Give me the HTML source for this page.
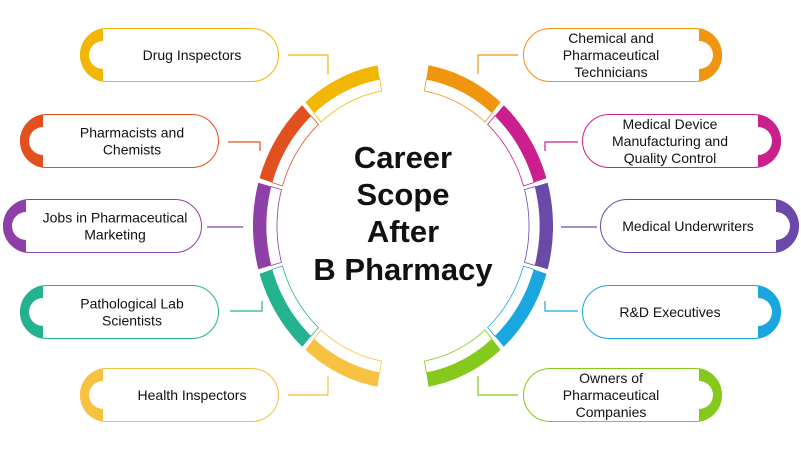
<!DOCTYPE html>
<html><head><meta charset="utf-8"><style>
html,body{margin:0;padding:0;background:#fff}
svg{display:block}
text{font-family:"Liberation Sans",Arial,sans-serif;fill:#111}
</style></head><body>
<svg id="s" width="801" height="451" viewBox="0 0 801 451" xmlns="http://www.w3.org/2000/svg">
<g id="ring"></g>
<g id="boxes"></g>
<g font-weight="bold" font-size="31" text-anchor="middle">
<text x="403" y="168">Career</text>
<text x="403" y="205">Scope</text>
<text x="403" y="242">After</text>
<text x="403" y="280">B Pharmacy</text>
</g>
</svg>
<script>
var NS="http://www.w3.org/2000/svg";
function el(p,tag,a,txt){var e=document.createElementNS(NS,tag);for(var k in a)e.setAttribute(k,a[k]);if(txt)e.textContent=txt;p.appendChild(e);return e;}
var cx=403,cy=226,k=1.087;
function pt(r,t){t=t*Math.PI/180;return [cx+r*Math.cos(t),cy+r*k*Math.sin(t)];}
function sector(r1,r2,a1,a2){var s="",n=24,i,p;for(i=0;i<=n;i++){p=pt(r2,a1+(a2-a1)*i/n);s+=(i?"L":"M")+p[0].toFixed(1)+","+p[1].toFixed(1);}
for(i=n;i>=0;i--){p=pt(r1,a1+(a2-a1)*i/n);s+="L"+p[0].toFixed(1)+","+p[1].toFixed(1);}return s+"Z";}
var ring=document.getElementById("ring");
var L=["#f2b705","#e2501f","#8e3fa8","#25b38f","#f7c142"];
var R=["#f0950e","#cc1f8e","#6a4aa8","#1aa7e0","#84c91c"];
var span=162/5,gap=1.6;
for(var i=0;i<5;i++){
 var a1=261-i*span-gap/2,a2=261-(i+1)*span+gap/2;
 el(ring,"path",{d:sector(126,137,a2,a1),fill:"#fff",stroke:L[i],"stroke-width":"0.8"});
 el(ring,"path",{d:sector(137,150,a2,a1),fill:L[i]});
 var b1=-81+i*span+gap/2,b2=-81+(i+1)*span-gap/2;
 el(ring,"path",{d:sector(126,137,b1,b2),fill:"#fff",stroke:R[i],"stroke-width":"0.8"});
 el(ring,"path",{d:sector(137,150,b1,b2),fill:R[i]});
}
var bx=document.getElementById("boxes");
var boxes=[
 {x:80,y:28,c:L[0],side:"L",t:["Drug Inspectors"],con:"M288,55H328V74"},
 {x:20,y:114,c:L[1],side:"L",t:["Pharmacists and","Chemists"],con:"M228,142H260V151"},
 {x:3,y:199,c:L[2],side:"L",t:["Jobs in Pharmaceutical","Marketing"],con:"M207,227H243"},
 {x:20,y:285,c:L[3],side:"L",t:["Pathological Lab","Scientists"],con:"M230,311H262V301"},
 {x:80,y:368,c:L[4],side:"L",t:["Health Inspectors"],con:"M288,395H328V376"},
 {x:523,y:28,c:R[0],side:"R",t:["Chemical and","Pharmaceutical","Technicians"],con:"M518,55H478V74"},
 {x:582,y:114,c:R[1],side:"R",t:["Medical Device","Manufacturing and","Quality Control"],con:"M578,142H545V151"},
 {x:600,y:199,c:R[2],side:"R",t:["Medical Underwriters"],con:"M597,227H561"},
 {x:582,y:285,c:R[3],side:"R",t:["R&D Executives"],con:"M578,311H545V301"},
 {x:523,y:368,c:R[4],side:"R",t:["Owners of","Pharmaceutical","Companies"],con:"M518,395H478V376"}
];
boxes.forEach(function(b){
 var w=199,h=54,x=b.x,y=b.y,cyb=y+27;
 el(bx,"path",{d:b.con,fill:"none",stroke:b.c,"stroke-width":"1.2"});
 el(bx,"rect",{x:x+0.5,y:y+0.5,width:w-1,height:h-1,rx:26.5,fill:"#fff",stroke:b.c,"stroke-width":"1"});
 var d;
 if(b.side=="L){"){}
 if(b.side=="L"){var e=x+23;d="M"+e+","+y+"H"+(x+27)+"A27,27 0 0 0 "+(x+27)+","+(y+54)+"H"+e+"V"+(cyb+14)+"A14,14 0 0 1 "+e+","+(cyb-14)+"Z";}
 else{var r=x+w,e2=r-23;d="M"+e2+","+y+"H"+(r-27)+"A27,27 0 0 1 "+(r-27)+","+(y+54)+"H"+e2+"V"+(cyb+14)+"A14,14 0 0 0 "+e2+","+(cyb-14)+"Z";}
 el(bx,"path",{d:d,fill:b.c});
 var tx=b.side=="L"?x+112:x+88;
 var n=b.t.length,lh=17,y0=cyb+5-(n-1)*lh/2;
 b.t.forEach(function(s,j){el(bx,"text",{x:tx,y:(y0+j*lh).toFixed(1),"font-size":"14","text-anchor":"middle"},s);});
});
</script>
</body></html>
